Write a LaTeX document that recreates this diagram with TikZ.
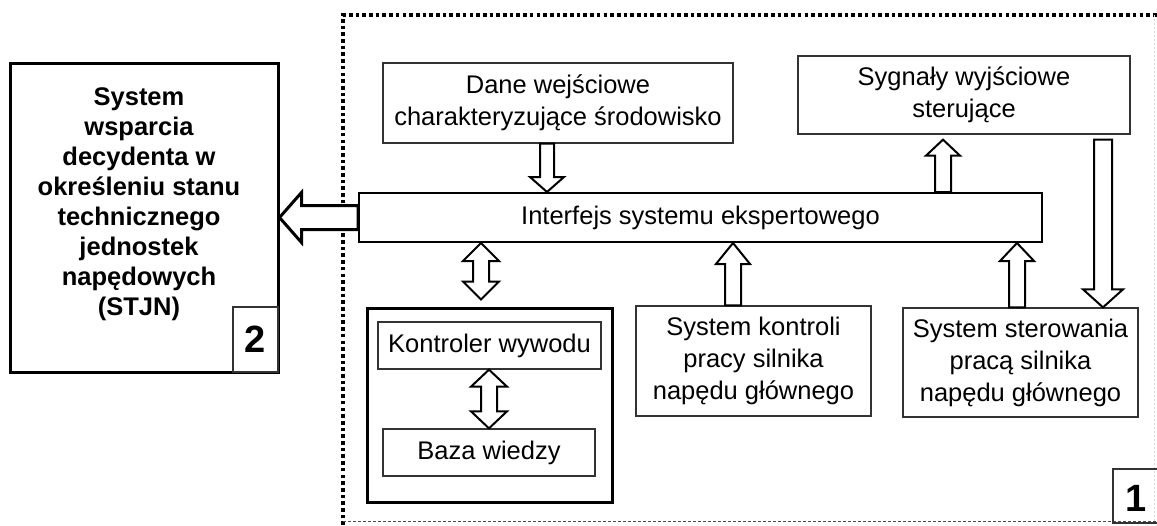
\documentclass[tikz,border=0pt]{standalone}
\usepackage{fontspec}
\setmainfont{Liberation Sans}
\usetikzlibrary{calc}
\newcommand\blkarr[5]{%
  \path ($(#2)!#5!(#1)$) coordinate (hb);
  \draw[blk] ($(#1)!#3!90:(#2)$) -- ($(hb)!#3!90:(#2)$) -- ($(hb)!#4!90:(#2)$) -- (#2)
    -- ($(hb)!#4!-90:(#2)$) -- ($(hb)!#3!-90:(#2)$) -- ($(#1)!#3!-90:(#2)$) -- cycle;}
\newcommand\dblarr[5]{%
  \path ($(#2)!#5!(#1)$) coordinate (hb) ($(#1)!#5!(#2)$) coordinate (ha);
  \draw[blk] ($(ha)!#3!90:(#2)$) -- ($(hb)!#3!90:(#2)$) -- ($(hb)!#4!90:(#2)$) -- (#2)
    -- ($(hb)!#4!-90:(#2)$) -- ($(hb)!#3!-90:(#2)$) -- ($(ha)!#3!-90:(#2)$)
    -- ($(ha)!#4!-90:(#2)$) -- (#1) -- ($(ha)!#4!90:(#2)$) -- cycle;}
\begin{document}
\begin{tikzpicture}[x=1pt,y=-1pt,
  box/.style={draw=black!80, line width=1.3pt, inner sep=0pt, align=center,
    font=\fontsize{25.5}{32}\selectfont},
  thickbox/.style={draw=black, line width=3pt, inner sep=0pt},
  numbox/.style={draw=black!80, line width=1.2pt, inner sep=0pt,
    font=\bfseries\fontsize{38}{40}\selectfont},
  blk/.style={draw=black, line width=2pt, fill=white, line join=miter},
  frame/.style={line width=4pt, dash pattern=on 3.6pt off 3.1pt}]
\useasboundingbox (0,0) rectangle (1157,525);
% outer dotted frame
\draw[frame] (343,525) -- (343,15) -- (1157,15);
\draw[black!70, line width=1pt, dash pattern=on 3pt off 2pt] (343,521.5) -- (1157,521.5);
\draw[black!15, line width=1pt, dash pattern=on 2pt off 2pt] (1154,15) -- (1154,521);
% left box
\node[thickbox, minimum width=268, minimum height=309] (box2) at (144,217.5) {};
\node[align=center, inner sep=0pt, font=\bfseries\fontsize{25.5}{30}\selectfont] (t2) at (139,204)
  {System\\wsparcia\\decydenta w\\określeniu stanu\\technicznego\\jednostek\\napędowych\\(STJN)};
\node[numbox, minimum width=45, minimum height=65] (n2) at (255.5,339.5) {2};
\node[numbox, minimum width=50, minimum height=54] (n1) at (1138,496) {};
\node[inner sep=0pt, font=\bfseries\fontsize{38}{40}\selectfont] (n1t) at (1136.5,498) {1};
% inner boxes
\node[box, minimum width=350, minimum height=80] (dane) at (558,103) {Dane wejściowe\\charakteryzujące środowisko};
\node[box, minimum width=332, minimum height=78] (syg) at (964,95) {Sygnały wyjściowe\\sterujące};
\node[box, draw=black, line width=2pt, minimum width=683, minimum height=49] (intf) at (700.5,217.5) {Interfejs systemu ekspertowego};
\node[thickbox, minimum width=245, minimum height=194] (cont) at (489.5,405) {};
\node[box, minimum width=223, minimum height=47] (kont) at (489.5,345.5) {Kontroler wywodu};
\node[box, minimum width=212, minimum height=47] (baza) at (489,452.5) {Baza wiedzy};
\node[box, minimum width=235, minimum height=110] (sk) at (753.5,361) {System kontroli\\pracy silnika\\napędu głównego};
\node[box, minimum width=235, minimum height=109] (ss) at (1020.5,362.5) {System sterowania\\pracą silnika\\napędu głównego};
% arrow anchor coordinates
\coordinate (a1t) at ($(dane.south)+(-11,0)$);
\coordinate (a1h) at (a1t |- intf.north);
\coordinate (a2h) at ($(syg.south)+(-21,5)$);
\coordinate (a2t) at (a2h |- intf.north);
\coordinate (a3t) at ($(syg.south)+(139,5)$);
\coordinate (a3h) at (a3t |- ss.north);
\coordinate (a4t) at ($(intf.south)+(-219.5,0)$);
\coordinate (a4h) at ($(a4t |- cont.north)+(0,-7)$);
\coordinate (a5t) at ($(kont.south)+(-0.5,0)$);
\coordinate (a5h) at (a5t |- baza.north);
\coordinate (a6t) at ($(sk.north)+(-20.5,0)$);
\coordinate (a6h) at (a6t |- intf.south);
\coordinate (a7t) at ($(ss.north)+(-3.5,0)$);
\coordinate (a7h) at (a7t |- intf.south);
% arrows
\blkarr{a1t}{a1h}{7pt}{17pt}{15pt}
\blkarr{a2t}{a2h}{8pt}{17pt}{16pt}
\blkarr{a3t}{a3h}{9pt}{20pt}{18pt}
\dblarr{a4t}{a4h}{8pt}{18pt}{18pt}
\dblarr{a5t}{a5h}{8pt}{18pt}{17pt}
\blkarr{a6t}{a6h}{8pt}{17pt}{21pt}
\blkarr{a7t}{a7h}{8pt}{17pt}{18pt}
\begin{scope}[blk/.append style={line width=3pt}]
\blkarr{intf.west}{box2.east}{12pt}{25pt}{22pt}
\end{scope}
\end{tikzpicture}
\end{document}
